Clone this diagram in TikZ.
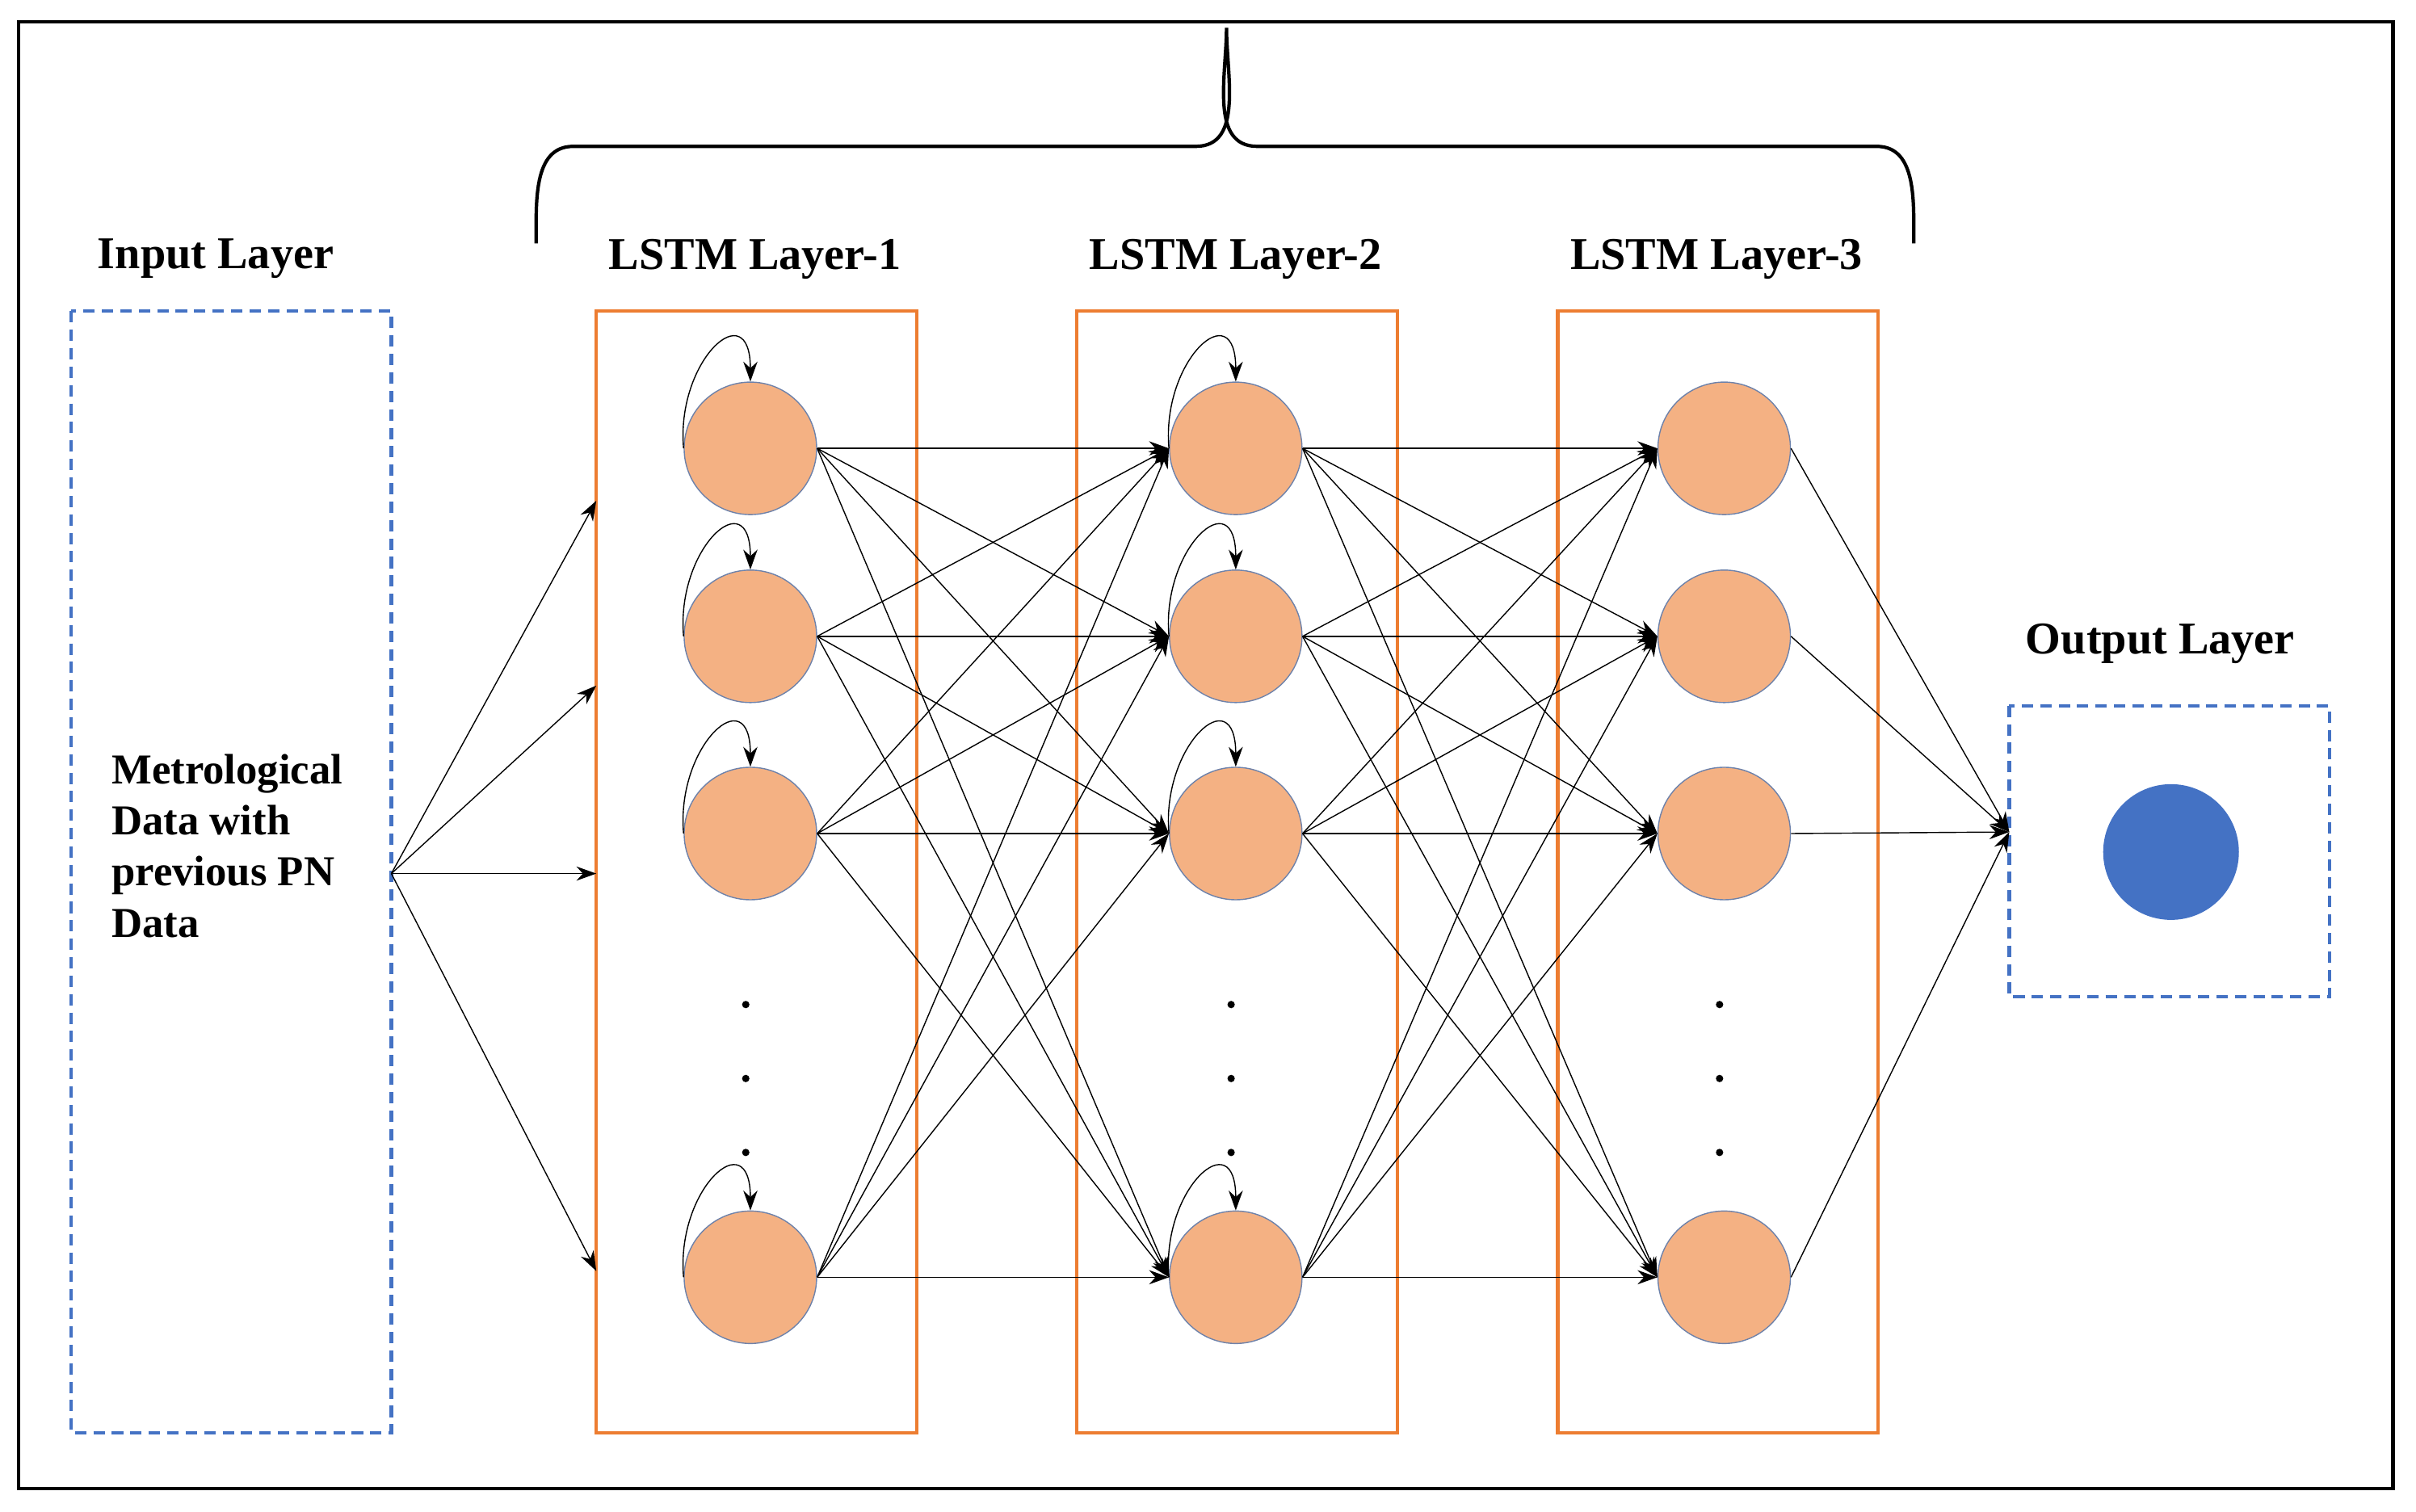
\documentclass[tikz,border=0pt]{standalone}
\usepackage{fontspec}
\setmainfont{Liberation Serif}
\usetikzlibrary{arrows.meta}
\definecolor{cellfill}{RGB}{244,177,131}
\definecolor{cellline}{RGB}{110,130,170}
\definecolor{boxorange}{RGB}{237,125,49}
\definecolor{boxblue}{RGB}{68,114,196}
\tikzset{
  arrow/.style={thin, -{Stealth[length=7pt,width=5pt]}},
  cell/.style={circle, draw=cellline, fill=cellfill, minimum size=1.64cm, inner sep=0pt},
  lstmbox/.style={draw=boxorange, line width=1.2pt},
  dashbox/.style={draw=boxblue, line width=1.2pt, dash pattern=on 4pt off 2.5pt},
  title/.style={font=\fontsize{16}{19}\selectfont\bfseries},
}
\begin{document}
\begin{tikzpicture}[x=0.01907cm, y=-0.01907cm]
        \useasboundingbox (0,0) rectangle (1568,981);
        \draw[line width=1.2pt] (12,14) rectangle (1553,966);

        % Input layer
        \draw[dashbox] (46,202) rectangle (254,930);
        \node[title] (inlbl) at (140,168) {Input Layer};
        \node[font=\fontsize{15}{18}\selectfont\bfseries, align=left, anchor=west] (indata) at (66,549)
            {Metrological\\Data with\\previous PN\\Data};
        \coordinate (src) at (254,567);

        % LSTM layers
        \foreach \k/\x in {1/387, 2/699, 3/1011} {
            \draw[lstmbox] (\x,202) rectangle (\x+208,930);
            \node[title] (lbl\k) at (\x+103,168) {LSTM Layer-\k};
        }
        \foreach \k/\x in {1/487, 2/802, 3/1119} {
            \foreach \i/\y in {1/291, 2/413, 3/541, 4/829}
                \node[cell] (n\k\i) at (\x,\y) {};
            \foreach \y in {652,700,748}
                \fill (\x-3,\y) circle (1.3pt);
        }

        % Input arrows
        \foreach \y [count=\i] in {325,445,567,825} {
            \coordinate (in\i) at (387,\y);
            \draw[arrow] (src) -- (in\i);
        }

        % Self loops
        \foreach \k in {1,2}
            \foreach \i in {1,2,3,4}
                \draw[arrow] (n\k\i.west) to[out=95,in=90,looseness=2.4] (n\k\i.north);

        % Full connections
        \foreach \i in {1,2,3,4}
            \foreach \j in {1,2,3,4} {
                \draw[arrow] (n1\i.east) -- (n2\j.west);
                \draw[arrow] (n2\i.east) -- (n3\j.west);
            }

        % Output layer
        \draw[dashbox] (1304,458) rectangle (1512,647);
        \node[title] (outlbl) at (1402,418) {Output Layer};
        \node[circle, fill=boxblue, minimum size=1.68cm] (out) at (1409,553) {};
        \coordinate (dst) at (1304,540);
        \foreach \i in {1,2,3,4}
            \draw[arrow] (n3\i.east) -- (dst);

        % Brace
        \draw[line width=1.2pt] (348,158) to[out=90,in=180] (372,95) -- (776,95)
            to[out=0,in=-90] (796,18) to[out=-90,in=180] (816,95) -- (1218,95)
            to[out=0,in=90] (1242,158);
\end{tikzpicture}
\end{document}
